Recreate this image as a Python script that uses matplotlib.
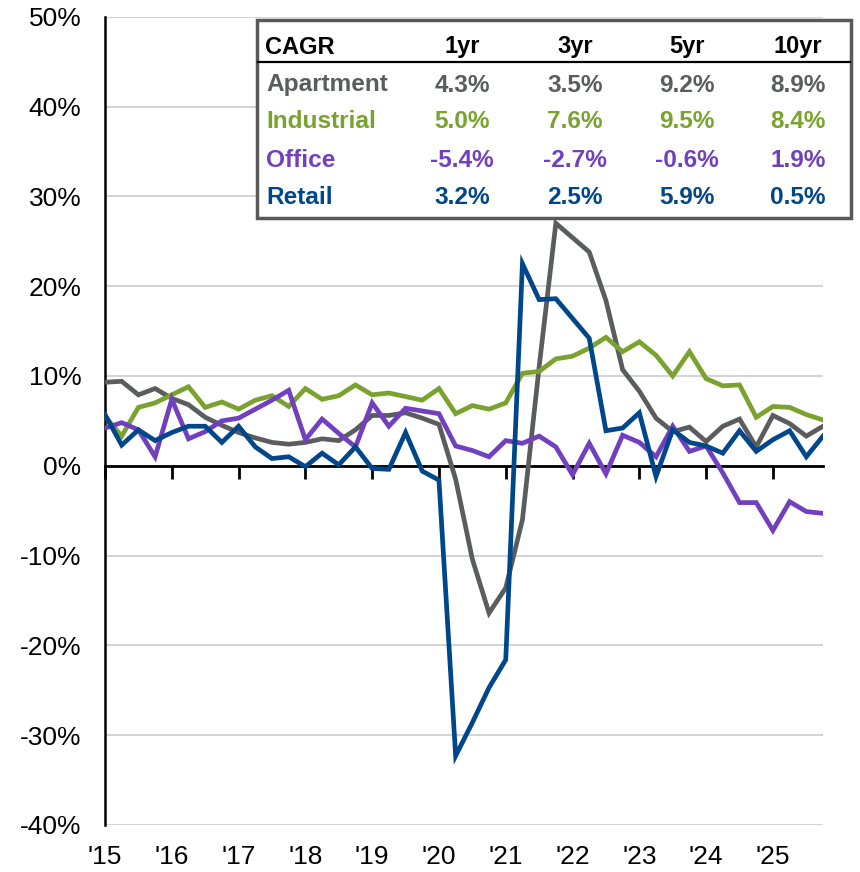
import matplotlib.pyplot as plt
from matplotlib.patches import Rectangle
from matplotlib.lines import Line2D
from matplotlib.ticker import FuncFormatter

plt.rcParams['font.family'] = ['Liberation Sans', 'DejaVu Sans']

# quarterly year-over-year change, Q1 2015 .. Q4 2025 (%)
apartment = [9.3, 9.4, 7.9, 8.6, 7.5, 6.8, 5.4, 4.5, 3.7, 3.1, 2.6, 2.4,
             2.6, 3.0, 2.8, 4.0, 5.6, 5.6, 5.9, 5.3, 4.6, -1.5, -10.4, -16.4,
             -13.6, -6.0, 11.0, 27.0, 25.4, 23.8, 18.4, 10.7, 8.3, 5.3, 3.8, 4.3,
             2.7, 4.4, 5.2, 2.1, 5.6, 4.7, 3.3, 4.4]
industrial = [5.5, 3.3, 6.5, 7.0, 7.9, 8.8, 6.5, 7.1, 6.3, 7.3, 7.8, 6.6,
              8.6, 7.4, 7.8, 9.0, 7.9, 8.1, 7.7, 7.3, 8.6, 5.8, 6.7, 6.3,
              7.0, 10.3, 10.5, 11.9, 12.2, 13.1, 14.3, 12.7, 13.8, 12.3, 10.0, 12.7,
              9.7, 8.9, 9.0, 5.4, 6.6, 6.5, 5.7, 5.1]
office = [4.2, 4.8, 4.0, 1.0, 7.4, 3.0, 3.8, 5.0, 5.3, 6.3, 7.3, 8.4,
          2.9, 5.2, 3.6, 2.1, 7.0, 4.4, 6.4, 6.1, 5.8, 2.2, 1.7, 1.0,
          2.8, 2.5, 3.3, 2.1, -1.0, 2.5, -0.9, 3.4, 2.6, 1.0, 4.4, 1.6,
          2.2, -0.8, -4.1, -4.1, -7.2, -4.0, -5.1, -5.3]
retail = [5.7, 2.3, 4.0, 2.8, 3.7, 4.4, 4.4, 2.6, 4.4, 2.1, 0.8, 1.0,
          -0.1, 1.4, 0.1, 2.1, -0.3, -0.4, 3.7, -0.6, -1.6, -32.3, -28.6, -24.7,
          -21.6, 22.5, 18.5, 18.6, 16.4, 14.2, 3.9, 4.2, 5.9, -1.2, 4.0, 2.6,
          2.2, 1.4, 3.9, 1.6, 2.9, 3.9, 1.0, 3.3]

year_labels = ["'15", "'16", "'17", "'18", "'19", "'20", "'21", "'22", "'23", "'24", "'25"]

sectors = ['Apartment', 'Industrial', 'Office', 'Retail']
colors = ['#5a5c5e', '#7aa22f', '#7040be', '#00468b']
periods = ['1yr', '3yr', '5yr', '10yr']
cagr = {
    'Apartment': ['4.3%', '3.5%', '9.2%', '8.9%'],
    'Industrial': ['5.0%', '7.6%', '9.5%', '8.4%'],
    'Office': ['-5.4%', '-2.7%', '-0.6%', '1.9%'],
    'Retail': ['3.2%', '2.5%', '5.9%', '0.5%'],
}

W, H = 860, 872
fig = plt.figure(figsize=(W / 100, H / 100), dpi=100)
ax = fig.add_axes([105 / W, 1 - 825 / H, (823 - 105) / W, (825 - 16.7) / H])

for name, series, c in zip(sectors, [apartment, industrial, office, retail], colors):
    ax.plot(range(len(series)), series, color=c, lw=3.4, zorder=3,
            solid_joinstyle='miter', label=name)

ax.set_xlim(0, len(apartment) - 1)
ax.set_ylim(-40, 50)
ax.set_yticks(range(-40, 51, 10))
ax.yaxis.set_major_formatter(FuncFormatter(lambda v, p: f'{v:.0f}%'))
ax.yaxis.grid(True, color='#d0d0d0', lw=1.3)
ax.set_axisbelow(True)

for s in ['top', 'right']:
    ax.spines[s].set_visible(False)
ax.spines['left'].set_linewidth(1.8)
ax.spines['bottom'].set_position(('data', 0))
ax.spines['bottom'].set_linewidth(2)
ax.spines['bottom'].set_zorder(2.5)

ax.tick_params(axis='y', length=0, pad=17, labelsize=19)
ax.set_xticks(range(0, len(apartment), 4))
ax.tick_params(axis='x', direction='out', length=9, width=2, labelbottom=False)

sec = ax.secondary_xaxis('bottom')
sec.set_xticks(range(0, len(apartment), 4), labels=year_labels)
sec.tick_params(length=0, pad=14.5, labelsize=19)
sec.spines['bottom'].set_visible(False)

# CAGR table box
def fx(px):
    return px / W

def fy(py):
    return 1 - py / H

box = Rectangle((fx(257), fy(218)), fx(851) - fx(257), fy(20) - fy(218),
                transform=fig.transFigure, facecolor='white', edgecolor='#595959',
                lw=2.5, zorder=5)
fig.add_artist(box)
fig.add_artist(Line2D([fx(258), fx(850)], [fy(62), fy(62)], transform=fig.transFigure,
                      color='black', lw=1.6, zorder=6))

col_x = [462, 575, 687, 798]
row_y = [85, 122, 160.5, 197.5]
fs = 17.6
fig.text(fx(265), fy(47), 'CAGR', fontsize=fs - 0.6, fontweight='bold', color='black',
         ha='left', va='center', zorder=7)
for px, p in zip(col_x, periods):
    fig.text(fx(px), fy(47), p, fontsize=fs - 0.6, fontweight='bold', color='black',
             ha='center', va='center', zorder=7)
for py, name, c in zip(row_y, sectors, colors):
    fig.text(fx(266), fy(py), name, fontsize=fs, fontweight='bold', color=c,
             ha='left', va='center', zorder=7)
    for px, v in zip(col_x, cagr[name]):
        fig.text(fx(px), fy(py), v, fontsize=fs, fontweight='bold', color=c,
                 ha='center', va='center', zorder=7)

fig.savefig('out.png', dpi=100)
